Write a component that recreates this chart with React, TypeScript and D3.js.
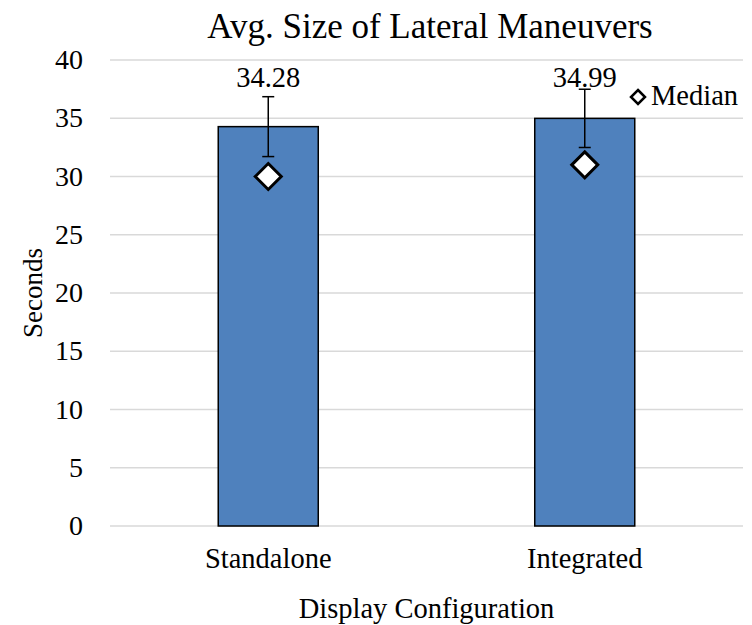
import React from 'react'
import * as d3 from 'd3'

const categories = ['Standalone', 'Integrated']
const means = [34.28, 34.99]
const errors = [2.57, 2.5]
const medians = [30.0, 31.0]
const yTicks = [0, 5, 10, 15, 20, 25, 30, 35, 40]

const W = 752
const H = 625
const margin = { left: 110, right: 9, top: 60, bottom: 99 }
const FONT = "'Liberation Serif', 'Times New Roman', Times, serif"

const diamond = (cx: number, cy: number, r: number) =>
    `M${cx},${cy - r}L${cx + r},${cy}L${cx},${cy + r}L${cx - r},${cy}Z`

export default function App() {
    const width = W - margin.left - margin.right
    const height = H - margin.top - margin.bottom

    const x = d3.scaleBand().domain(categories).range([0, width]).paddingInner(0).paddingOuter(0)
    const y = d3.scaleLinear().domain([0, 40]).range([height, 0])
    const barW = x.bandwidth() * 0.316
    // labels sit on one line above the tallest bar
    const labelY = y(d3.max(means)!) - 31

    return (
        <svg width={W} height={H} style={{ position: 'absolute', left: 0, top: 0, fontFamily: FONT }}>
            <rect width={W} height={H} fill="white" />
            <text x={430} y={38} textAnchor="middle" fontSize={35}>Avg. Size of Lateral Maneuvers</text>
            <g transform={`translate(${margin.left},${margin.top})`}>
                {yTicks.map(t => (
                    <g key={t}>
                        <line x1={0} x2={width} y1={y(t)} y2={y(t)} stroke="#d9d9d9" strokeWidth={1.5} />
                        <text x={-27} y={y(t)} dy="0.33em" textAnchor="end" fontSize={28}>{t}</text>
                    </g>
                ))}
                {categories.map((c, i) => {
                    const cx = x(c)! + x.bandwidth() / 2
                    return (
                        <g key={c}>
                            <rect x={cx - barW / 2} y={y(means[i])} width={barW} height={height - y(means[i])}
                                fill="#4f81bd" stroke="black" strokeWidth={1.5} />
                            <line x1={cx} x2={cx} y1={y(means[i] + errors[i])} y2={y(means[i] - errors[i])} stroke="black" strokeWidth={1.5} />
                            <line x1={cx - 6} x2={cx + 6} y1={y(means[i] + errors[i])} y2={y(means[i] + errors[i])} stroke="black" strokeWidth={1.5} />
                            <line x1={cx - 6} x2={cx + 6} y1={y(means[i] - errors[i])} y2={y(means[i] - errors[i])} stroke="black" strokeWidth={1.5} />
                            <path d={diamond(cx, y(medians[i]), 13)} fill="white" stroke="black" strokeWidth={3} strokeLinejoin="miter" />
                            <text x={cx} y={labelY} textAnchor="middle" fontSize={28.5}>{means[i].toFixed(2)}</text>
                            <text x={cx} y={height + 42} textAnchor="middle" fontSize={28.5}>{c}</text>
                        </g>
                    )
                })}
            </g>
            <path d={diamond(638, 97, 7)} fill="white" stroke="black" strokeWidth={2.5} />
            <text x={651} y={105} fontSize={28.5}>Median</text>
            <text x={margin.left + width / 2} y={618} textAnchor="middle" fontSize={28.5}>Display Configuration</text>
            <text transform={`translate(42,${margin.top + height / 2}) rotate(-90)`} textAnchor="middle" fontSize={27}>Seconds</text>
        </svg>
    )
}
